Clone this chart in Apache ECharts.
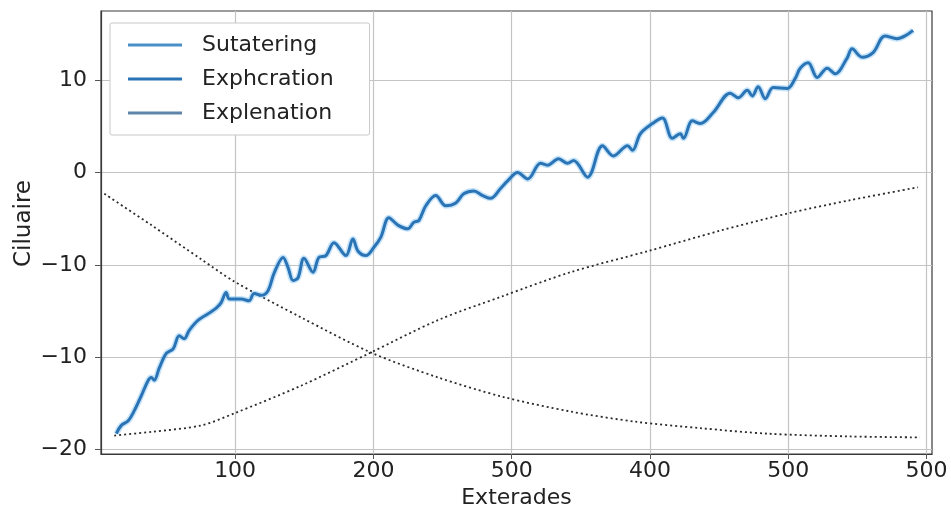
<!DOCTYPE html>
<html>
<head>
<meta charset="utf-8">
<script src="https://cdn.jsdelivr.net/npm/echarts@6/dist/echarts.min.js"></script>
<style>
html,body{margin:0;padding:0;background:#fff;}
#chart{width:951px;height:515px;}
</style>
</head>
<body>
<div id="chart"></div>
<script>
// Tick positions (axis units) and their printed labels
var xTickValues = [100, 200, 300, 400, 500, 600];
var xTickLabels = ["100", "200", "500", "400", "500", "500"];
var yTickValues = [-30, -20, -10, 0, 10];
var yTickLabels = ["\u221220", "\u221210", "\u221210", "0", "10"];

var legendNames = ["Sutatering", "Exphcration", "Explenation"];

// Noisy rising blue line
var mainX = [14.1,17.7,22.7,27.1,32.1,37.2,39.4,41.5,45.1,50.2,55.2,59.6,63.2,66.8,73.3,80.5,86.3,89.9,93.5,95.7,99.3,104.3,110.1,113.7,118.8,123.8,128.2,134.7,138.3,141.9,145.5,149.8,156.3,160.6,165.7,171.5,180.1,185.2,188.8,194.6,200.4,205.4,211.2,217.7,224.9,229.2,232.9,237.9,245.1,252.3,259.6,265.3,272.6,279.1,284.8,292.1,297.1,304.3,311.6,320.9,326.0,333.9,340.4,344.8,354.9,365.7,373.6,383.8,387.4,393.1,401.8,409.0,416.2,422.0,424.2,430.7,436.5,445.8,458.1,463.9,470.4,474.0,478.3,483.4,489.2,499.3,505.1,508.7,514.4,521.0,528.2,534.0,542.6,546.2,553.4,561.4,570.0,578.7,584.5,590.3];
var mainY = [-28.3,-27.4,-26.9,-25.8,-24.2,-22.5,-22.2,-22.5,-21.2,-19.6,-19.1,-17.7,-18.0,-17.1,-16.0,-15.3,-14.7,-14.1,-13.0,-13.7,-13.7,-13.7,-13.9,-13.1,-13.3,-12.8,-10.9,-9.2,-10.3,-11.7,-11.4,-9.3,-10.8,-9.2,-9.0,-7.6,-9.0,-7.2,-8.5,-9.0,-8.1,-7.0,-4.9,-5.7,-6.1,-5.4,-5.2,-3.6,-2.5,-3.6,-3.3,-2.3,-2.0,-2.5,-2.8,-1.7,-0.9,0.0,-0.7,1.0,0.8,1.5,1.0,1.3,-0.5,2.9,1.8,2.9,2.4,4.2,5.3,5.9,3.7,4.2,3.7,5.6,5.3,6.5,8.6,8.1,8.9,8.3,9.3,8.0,9.2,9.1,10.2,11.3,11.9,10.3,11.3,10.7,12.4,13.4,12.5,13.0,14.8,14.5,14.8,15.4];

// Dotted descending curve
var descX = [5.4,39.4,75.5,99.3,147.7,198.2,246.6,293.5,342.6,389.5,436.5,485.6,544.8,595.3];
var descY = [-2.3,-5.7,-9.4,-11.8,-15.7,-19.5,-22.2,-24.3,-25.9,-27.0,-27.7,-28.3,-28.6,-28.7];

// Dotted ascending curve
var ascX = [12.6,39.4,75.5,99.3,147.7,198.2,246.6,293.5,342.6,398.9,450.9,500.7,544.8,593.9];
var ascY = [-28.5,-28.1,-27.4,-26.1,-23.1,-19.5,-16.0,-13.4,-10.8,-8.5,-6.3,-4.4,-3.0,-1.6];

function zip(a, b) { var r = []; for (var i = 0; i < a.length; i++) r.push([a[i], b[i]]); return r; }
function lookup(vals, labels) {
  return function (v) { var i = vals.indexOf(Math.round(v)); return i >= 0 && Math.abs(v - vals[i]) < 1e-6 ? labels[i] : ''; };
}

var FONT = 'DejaVu Sans';
var chart = echarts.init(document.getElementById('chart'), null, { renderer: 'canvas' });
chart.setOption({
  animation: false,
  backgroundColor: '#ffffff',
  grid: { left: 101, right: 19, top: 11, bottom: 61, show: true, borderColor: '#3a3a3a', borderWidth: 1.2, backgroundColor: 'transparent' },
  legend: {
    orient: 'vertical', left: 110, top: 23,
    padding: [10, 36, 10, 18], itemGap: 10,
    itemWidth: 54, itemHeight: 3, icon: 'rect',
    borderColor: '#c8c8c8', borderWidth: 1, borderRadius: 2, backgroundColor: '#ffffff',
    textStyle: { fontFamily: FONT, fontSize: 22, color: '#222', lineHeight: 24, padding: [0, 0, 0, 15] },
    data: [
      { name: legendNames[0], icon: 'rect', itemStyle: { color: '#4a8fc8' } },
      { name: legendNames[1], icon: 'rect', itemStyle: { color: '#2a74b5' } },
      { name: legendNames[2], icon: 'rect', itemStyle: { color: '#5f86aa' } }
    ]
  },
  xAxis: {
    type: 'value', min: 3, max: 604,
    name: 'Exterades', nameLocation: 'middle', nameGap: 24,
    nameTextStyle: { fontFamily: FONT, fontSize: 22, color: '#222' },
    axisLine: { show: true, onZero: false, lineStyle: { color: '#3a3a3a', width: 1.2 } },
    axisTick: { show: true, length: 5, inside: false, customValues: xTickValues, lineStyle: { color: '#555' } },
    axisLabel: { customValues: xTickValues, formatter: lookup(xTickValues, xTickLabels), fontFamily: FONT, fontSize: 22, color: '#222', margin: 6 },
    splitLine: { show: true, lineStyle: { color: '#c4c4c4', width: 1.2 } }
  },
  yAxis: {
    type: 'value', min: -30.5, max: 17.5,
    name: 'Ciluaire', nameLocation: 'middle', nameGap: 65, nameRotate: 90, nameMoveOverlap: false,
    nameTextStyle: { fontFamily: FONT, fontSize: 23, color: '#222', padding: [0, 0, 0, 18] },
    axisLine: { show: true, onZero: false, lineStyle: { color: '#3a3a3a', width: 1.2 } },
    axisTick: { show: true, length: 6, inside: false, customValues: yTickValues, lineStyle: { color: '#555' } },
    axisLabel: { customValues: yTickValues, formatter: lookup(yTickValues, yTickLabels), fontFamily: FONT, fontSize: 22, color: '#222', margin: 14 },
    splitLine: { show: true, lineStyle: { color: '#c4c4c4', width: 1.2 } }
  },
  series: [
    {
      name: legendNames[0], type: 'line', data: zip(mainX, mainY), symbol: 'none', smooth: 0.35,
      lineStyle: { color: 'rgba(110,185,240,0.4)', width: 6 }, itemStyle: { color: '#4a8fc8' }, z: 3, silent: true
    },
    {
      name: legendNames[1], type: 'line', data: zip(mainX, mainY), symbol: 'none', smooth: 0.35,
      lineStyle: { color: '#2a74b5', width: 3 }, itemStyle: { color: '#2a74b5' }, z: 4
    },
    {
      name: legendNames[2], type: 'line', data: zip(descX, descY), symbol: 'none', smooth: 0.3,
      lineStyle: { color: '#2a2a2a', width: 1.8, type: [2, 3] }, itemStyle: { color: '#5f86aa' }, z: 2
    },
    {
      name: legendNames[2], type: 'line', data: zip(ascX, ascY), symbol: 'none', smooth: 0.3,
      lineStyle: { color: '#2a2a2a', width: 1.8, type: [2, 3] }, itemStyle: { color: '#5f86aa' }, z: 2
    }
  ]
});
</script>
</body>
</html>
